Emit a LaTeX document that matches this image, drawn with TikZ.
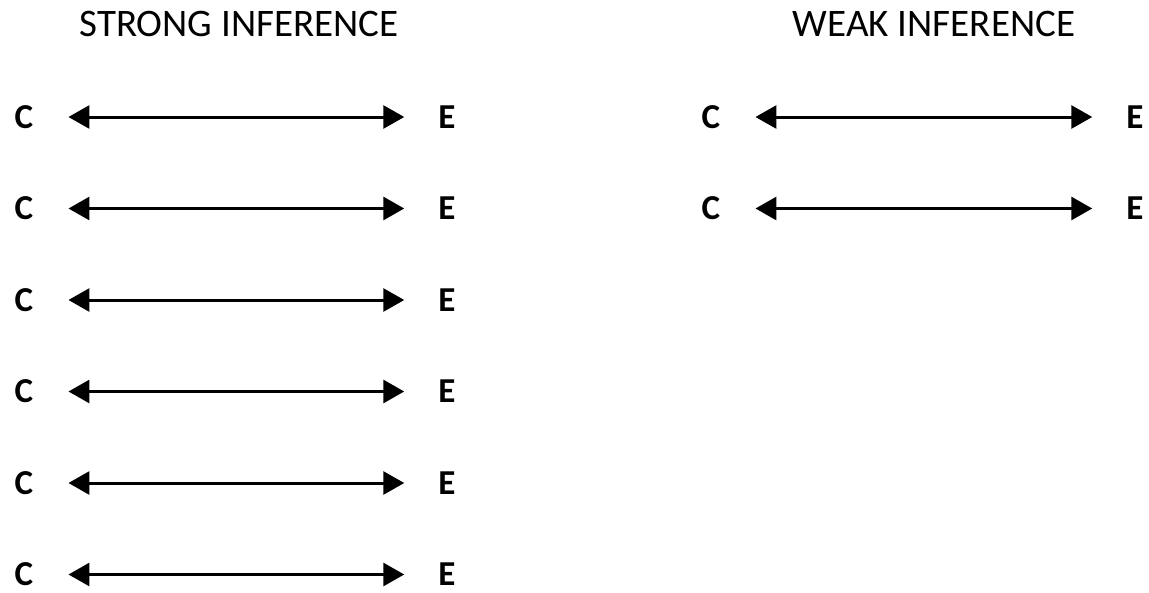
\documentclass[tikz,border=0pt]{standalone}
\usepackage{fontspec}
\setmainfont{Carlito}
\usetikzlibrary{arrows.meta}
\tikzset{
  title/.style={inner sep=0pt, font=\fontsize{39}{44}\selectfont},
  letter/.style={inner sep=0pt, font=\fontsize{35}{40}\selectfont\bfseries},
  link/.style={{Triangle[length=21pt,width=23pt]}-{Triangle[length=21pt,width=23pt]}, line width=3pt, shorten <=35pt, shorten >=34pt}
}
\begin{document}
\begin{tikzpicture}[x=1pt, y=-1pt]
    \useasboundingbox (0,0) rectangle (1149,592);
    \node[title] (strong) at (239,24) {STRONG INFERENCE};
    \node[title] (weak) at (934,24) {WEAK INFERENCE};

    \node[letter] (c1) at (24,117) {C};   \node[letter] (e1) at (447,117) {E};
    \node[letter] (c2) at (24,208.5) {C}; \node[letter] (e2) at (447,208.5) {E};
    \node[letter] (c3) at (24,300) {C};   \node[letter] (e3) at (447,300) {E};
    \node[letter] (c4) at (24,391.5) {C}; \node[letter] (e4) at (447,391.5) {E};
    \node[letter] (c5) at (24,483) {C};   \node[letter] (e5) at (447,483) {E};
    \node[letter] (c6) at (24,574.5) {C}; \node[letter] (e6) at (447,574.5) {E};

    \node[letter] (c7) at (711,117) {C};   \node[letter] (e7) at (1135,117) {E};
    \node[letter] (c8) at (711,208.5) {C}; \node[letter] (e8) at (1135,208.5) {E};

    \draw[link] (c1)--(e1); \draw[link] (c2)--(e2); \draw[link] (c3)--(e3);
    \draw[link] (c4)--(e4); \draw[link] (c5)--(e5); \draw[link] (c6)--(e6);
    \draw[link] (c7)--(e7); \draw[link] (c8)--(e8);
\end{tikzpicture}
\end{document}
